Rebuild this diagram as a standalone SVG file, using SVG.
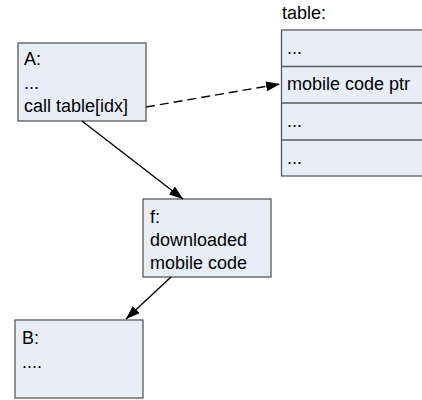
<svg xmlns="http://www.w3.org/2000/svg" width="422" height="400" viewBox="0 0 422 400">
<style>
.box{fill:#e8edf7;stroke:#595959;stroke-width:1.3}
.t{font-family:"Liberation Sans",Arial,sans-serif;font-size:18px;fill:#000}
.c{stroke:#000;stroke-width:1.4;fill:none}
</style>
<defs>
<marker id="ah" viewBox="0 0 14 10" refX="14" refY="5" markerWidth="14" markerHeight="10" markerUnits="userSpaceOnUse" orient="auto">
<path d="M0,0 L14,5 L0,10 z" fill="#000"/>
</marker>
</defs>
<rect width="422" height="400" fill="#fff"/>
<g id="table">
<text class="t" x="282" y="19">table:</text>
<rect class="box" x="281.5" y="30" width="142" height="146"/>
<line x1="281.5" y1="66.5" x2="422" y2="66.5" stroke="#595959" stroke-width="1.3"/>
<line x1="281.5" y1="103" x2="422" y2="103" stroke="#595959" stroke-width="1.3"/>
<line x1="281.5" y1="140" x2="422" y2="140" stroke="#595959" stroke-width="1.3"/>
<text class="t" x="287" y="54">...</text>
<text class="t" x="287" y="90">mobile code ptr</text>
<text class="t" x="287" y="127">...</text>
<text class="t" x="287" y="164">...</text>
</g>
<g id="A">
<rect class="box" x="18" y="43" width="128" height="78"/>
<text class="t" x="24" y="65">A:</text>
<text class="t" x="24" y="89">...</text>
<text class="t" x="24" y="112">call table[idx]</text>
</g>
<g id="f">
<rect class="box" x="143" y="199" width="128" height="78"/>
<text class="t" x="150" y="223">f:</text>
<text class="t" x="150" y="246">downloaded</text>
<text class="t" x="150" y="269">mobile code</text>
</g>
<g id="B">
<rect class="box" x="15" y="320" width="128" height="78"/>
<text class="t" x="22" y="344">B:</text>
<text class="t" x="22" y="368">....</text>
</g>
<g id="connectors">
<line class="c" x1="146" y1="107" x2="280" y2="84" stroke-dasharray="9,5" marker-end="url(#ah)"/>
<line class="c" x1="82" y1="121" x2="183" y2="199" marker-end="url(#ah)"/>
<line class="c" x1="171" y1="277" x2="126" y2="319" marker-end="url(#ah)"/>
</g>
</svg>
